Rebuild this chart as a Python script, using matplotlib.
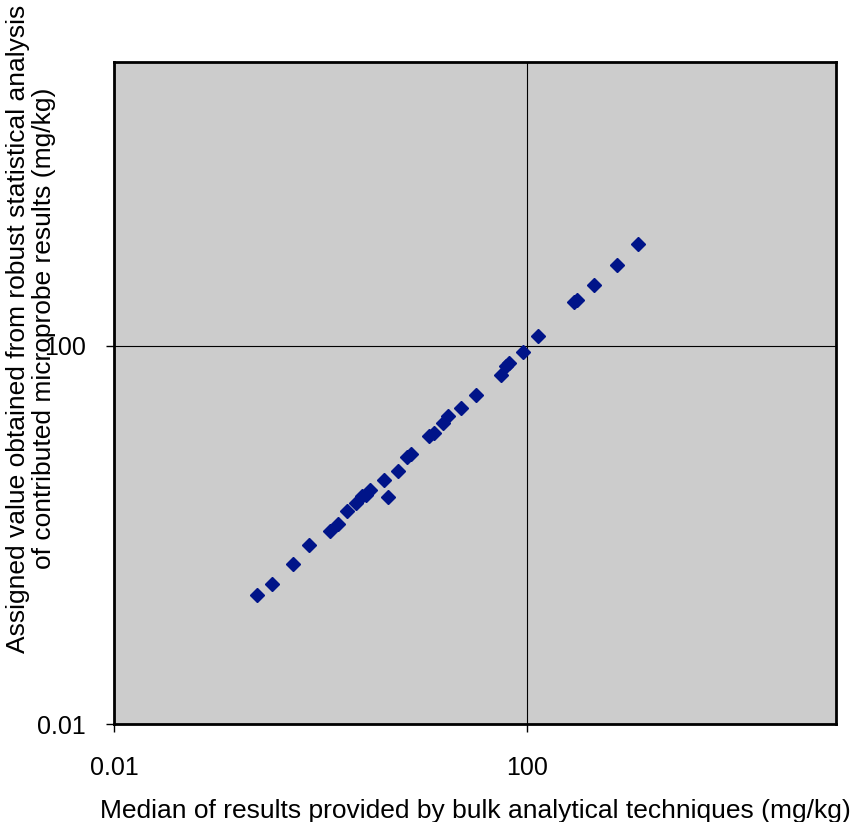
import matplotlib.pyplot as plt
from matplotlib.ticker import FixedLocator, FixedFormatter, NullLocator

# bulk median (x) vs microprobe assigned value (y), mg/kg
bulk_median = [0.244, 0.339, 0.546, 0.780, 1.24, 1.50, 1.83, 2.24, 2.56, 2.80,
               3.02, 4.12, 4.54, 5.72, 6.88, 7.53, 11.3, 12.6, 15.5, 17.3,
               23.3, 32.6, 56.9, 63.6, 66.9, 92.5, 128, 288, 308, 449, 760, 1216]
assigned_value = [0.230, 0.301, 0.497, 0.789, 1.11, 1.30, 1.77, 2.17, 2.59, 2.65,
                  2.99, 3.82, 2.51, 4.76, 6.69, 7.20, 11.0, 11.9, 15.2, 17.9,
                  21.9, 30.3, 49.3, 61.4, 66.1, 86.4, 128, 292, 307, 439, 720, 1200]

tick_values = [0.01, 100]
tick_labels = ['0.01', '100']

plt.rcParams['font.family'] = ['Liberation Sans', 'DejaVu Sans']

fig = plt.figure(figsize=(8.63, 8.22), dpi=100)
ax = fig.add_axes([0.1321, 0.1192, 0.8366, 0.8054])
ax.set_facecolor('#CCCCCC')

ax.plot(bulk_median, assigned_value, linestyle='none', marker='D',
        markersize=7.5, color='#001489', zorder=3)

ax.set_xscale('log')
ax.set_yscale('log')
ax.set_xlim(0.01, 1e5)
ax.set_ylim(0.01, 1e5)

for axis in (ax.xaxis, ax.yaxis):
    axis.set_major_locator(FixedLocator(tick_values))
    axis.set_major_formatter(FixedFormatter(tick_labels))
    axis.set_minor_locator(NullLocator())

ax.grid(True, which='major', color='black', linewidth=0.8)
ax.set_axisbelow(True)
ax.tick_params(axis='both', direction='out', length=6, width=1, labelsize=18)
ax.tick_params(axis='x', pad=17)
ax.tick_params(axis='y', pad=14)

for s in ax.spines.values():
    s.set_linewidth(2)
    s.set_color('black')

ax.set_xlabel('Median of results provided by bulk analytical techniques (mg/kg)',
              fontsize=19, labelpad=14)
fig.text(0.036, 0.60,
         'Assigned value obtained from robust statistical analysis\n'
         'of contributed microprobe results (mg/kg)',
         rotation=90, ha='center', va='center', fontsize=19,
         multialignment='center', linespacing=1.15)

plt.savefig('out.png', dpi=100)
